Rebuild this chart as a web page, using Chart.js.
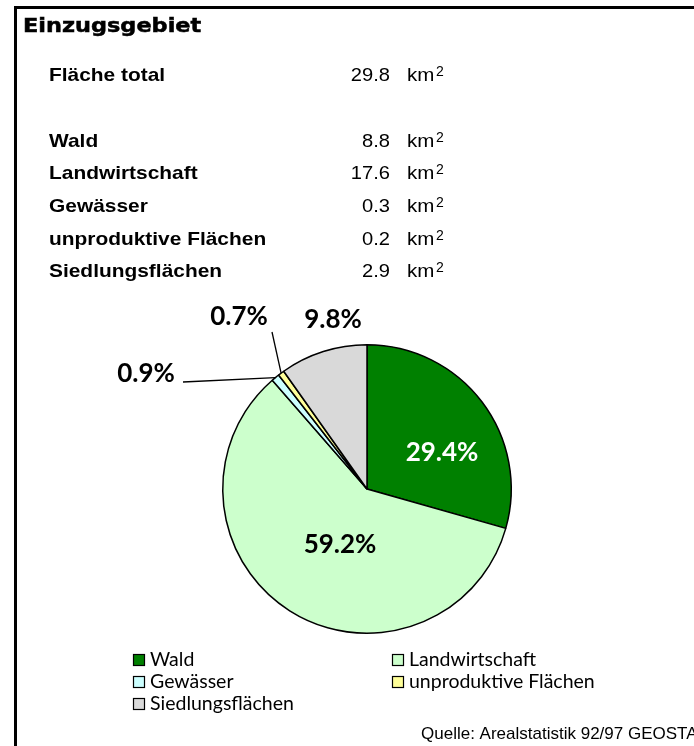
<!DOCTYPE html>
<html>
<head>
<meta charset="utf-8">
<script src="https://cdn.jsdelivr.net/npm/chart.js@4.4.1/dist/chart.umd.min.js"></script>
<style>
html,body{margin:0;padding:0;background:#fff;overflow:hidden;}
canvas{display:block;}
</style>
</head>
<body>
<canvas id="c" width="694" height="746"></canvas>
<script>
const title = 'Einzugsgebiet';
const totalLabel = 'Fläche total';
const totalKm2 = 29.8;
const categories = ['Wald', 'Landwirtschaft', 'Gewässer', 'unproduktive Flächen', 'Siedlungsflächen'];
const areaKm2 = [8.8, 17.6, 0.3, 0.2, 2.9];
const shares = [29.4, 59.2, 0.9, 0.7, 9.8];
const shareLabels = ['29.4%', '59.2%', '0.9%', '0.7%', '9.8%'];
const sliceColors = ['#008000', '#CCFFCC', '#CCFFFF', '#FFFF99', '#D9D9D9'];
const sourceText = 'Quelle: Arealstatistik 92/97 GEOSTAT';

const W = 694, H = 746;
const cx = 367, cy = 489, R = 145;

// label placement (offset from pie centre), leader start
const labelPlace = [
  {dx: 75, dy: -36, color: '#fff', leader: null},
  {dx: -27, dy: 56, color: '#000', leader: null},
  {dx: -221, dy: -115, color: '#000', leader: [183, 382]},
  {dx: -128, dy: -172, color: '#000', leader: [272, 332]},
  {dx: -34, dy: -169, color: '#000', leader: null}
];

function stretchText(ctx, txt, x, y, sx) {
  ctx.save();
  ctx.translate(x, y);
  ctx.scale(sx, 1);
  ctx.fillText(txt, 0, 0);
  ctx.restore();
}

const overlay = {
  id: 'overlay',
  afterDraw(chart) {
    const ctx = chart.ctx;
    ctx.save();
    // frame
    ctx.fillStyle = '#000';
    ctx.fillRect(14, 6, W - 14, 3);
    ctx.fillRect(14, 6, 3, H - 6);
    // title
    ctx.textBaseline = 'alphabetic';
    ctx.textAlign = 'left';
    ctx.font = 'bold 19px "DejaVu Sans"';
    ctx.save();
    ctx.translate(23, 32);
    ctx.scale(1.18, 1);
    ctx.lineWidth = 0.5;
    ctx.strokeStyle = '#000';
    ctx.fillText(title, 0, 0);
    ctx.strokeText(title, 0, 0);
    ctx.restore();
    // table
    const rowsY = [147, 179, 212, 245, 277];
    const drawRow = (label, val, y) => {
      ctx.textAlign = 'left';
      ctx.font = 'bold 19px "Liberation Sans"';
      stretchText(ctx, label, 49, y, 1.1);
      ctx.textAlign = 'right';
      ctx.font = '19px "Liberation Sans"';
      stretchText(ctx, val.toFixed(1), 390, y, 1.06);
      ctx.textAlign = 'left';
      stretchText(ctx, 'km', 407, y, 1.08);
      ctx.font = '14px "Liberation Sans"';
      ctx.fillText('2', 436, y - 5);
    };
    drawRow(totalLabel, totalKm2, 81);
    categories.forEach((c, i) => drawRow(c, areaKm2[i], rowsY[i]));

    // pie labels
    const meta = chart.getDatasetMeta(0);
    meta.data.forEach((arc, i) => {
      const p = labelPlace[i];
      const x = arc.x + p.dx, y = arc.y + p.dy;
      if (p.leader) {
        const mid = (arc.startAngle + arc.endAngle) / 2;
        const ex = arc.x + Math.cos(mid) * arc.outerRadius;
        const ey = arc.y + Math.sin(mid) * arc.outerRadius;
        ctx.strokeStyle = '#000';
        ctx.lineWidth = 1.3;
        ctx.beginPath();
        ctx.moveTo(p.leader[0], p.leader[1]);
        ctx.lineTo(ex, ey);
        ctx.stroke();
      }
      ctx.fillStyle = p.color;
      ctx.font = 'bold 26px Lato';
      ctx.textAlign = 'center';
      ctx.textBaseline = 'middle';
      ctx.fillText(shareLabels[i], x, y);
    });

    // legend
    const legPos = [[133, 660], [392, 660], [133, 682], [392, 682], [133, 704]];
    ctx.textAlign = 'left';
    ctx.textBaseline = 'alphabetic';
    categories.forEach((c, i) => {
      const [lx, ly] = legPos[i];
      ctx.fillStyle = sliceColors[i];
      ctx.fillRect(lx, ly - 6, 12, 12);
      ctx.strokeStyle = '#000';
      ctx.lineWidth = 1.2;
      ctx.strokeRect(lx + 0.5, ly - 5.5, 11, 11);
      ctx.fillStyle = '#000';
      ctx.font = '19.5px Lato';
      ctx.fillText(c, lx + 17, ly + 6);
    });
    // source
    ctx.font = '17px "Liberation Sans"';
    ctx.fillText(sourceText, 421, 739);
    ctx.restore();
  }
};

new Chart(document.getElementById('c'), {
  type: 'pie',
  data: {
    labels: categories,
    datasets: [{
      data: shares,
      backgroundColor: sliceColors,
      borderColor: '#000',
      borderWidth: 1.5,
      borderAlign: 'center'
    }]
  },
  options: {
    responsive: false,
    animation: false,
    layout: {padding: {left: cx - R, right: W - cx - R, top: cy - R, bottom: H - cy - R}},
    plugins: {legend: {display: false}, tooltip: {enabled: false}},
  },
  plugins: [overlay]
});
</script>
</body>
</html>
